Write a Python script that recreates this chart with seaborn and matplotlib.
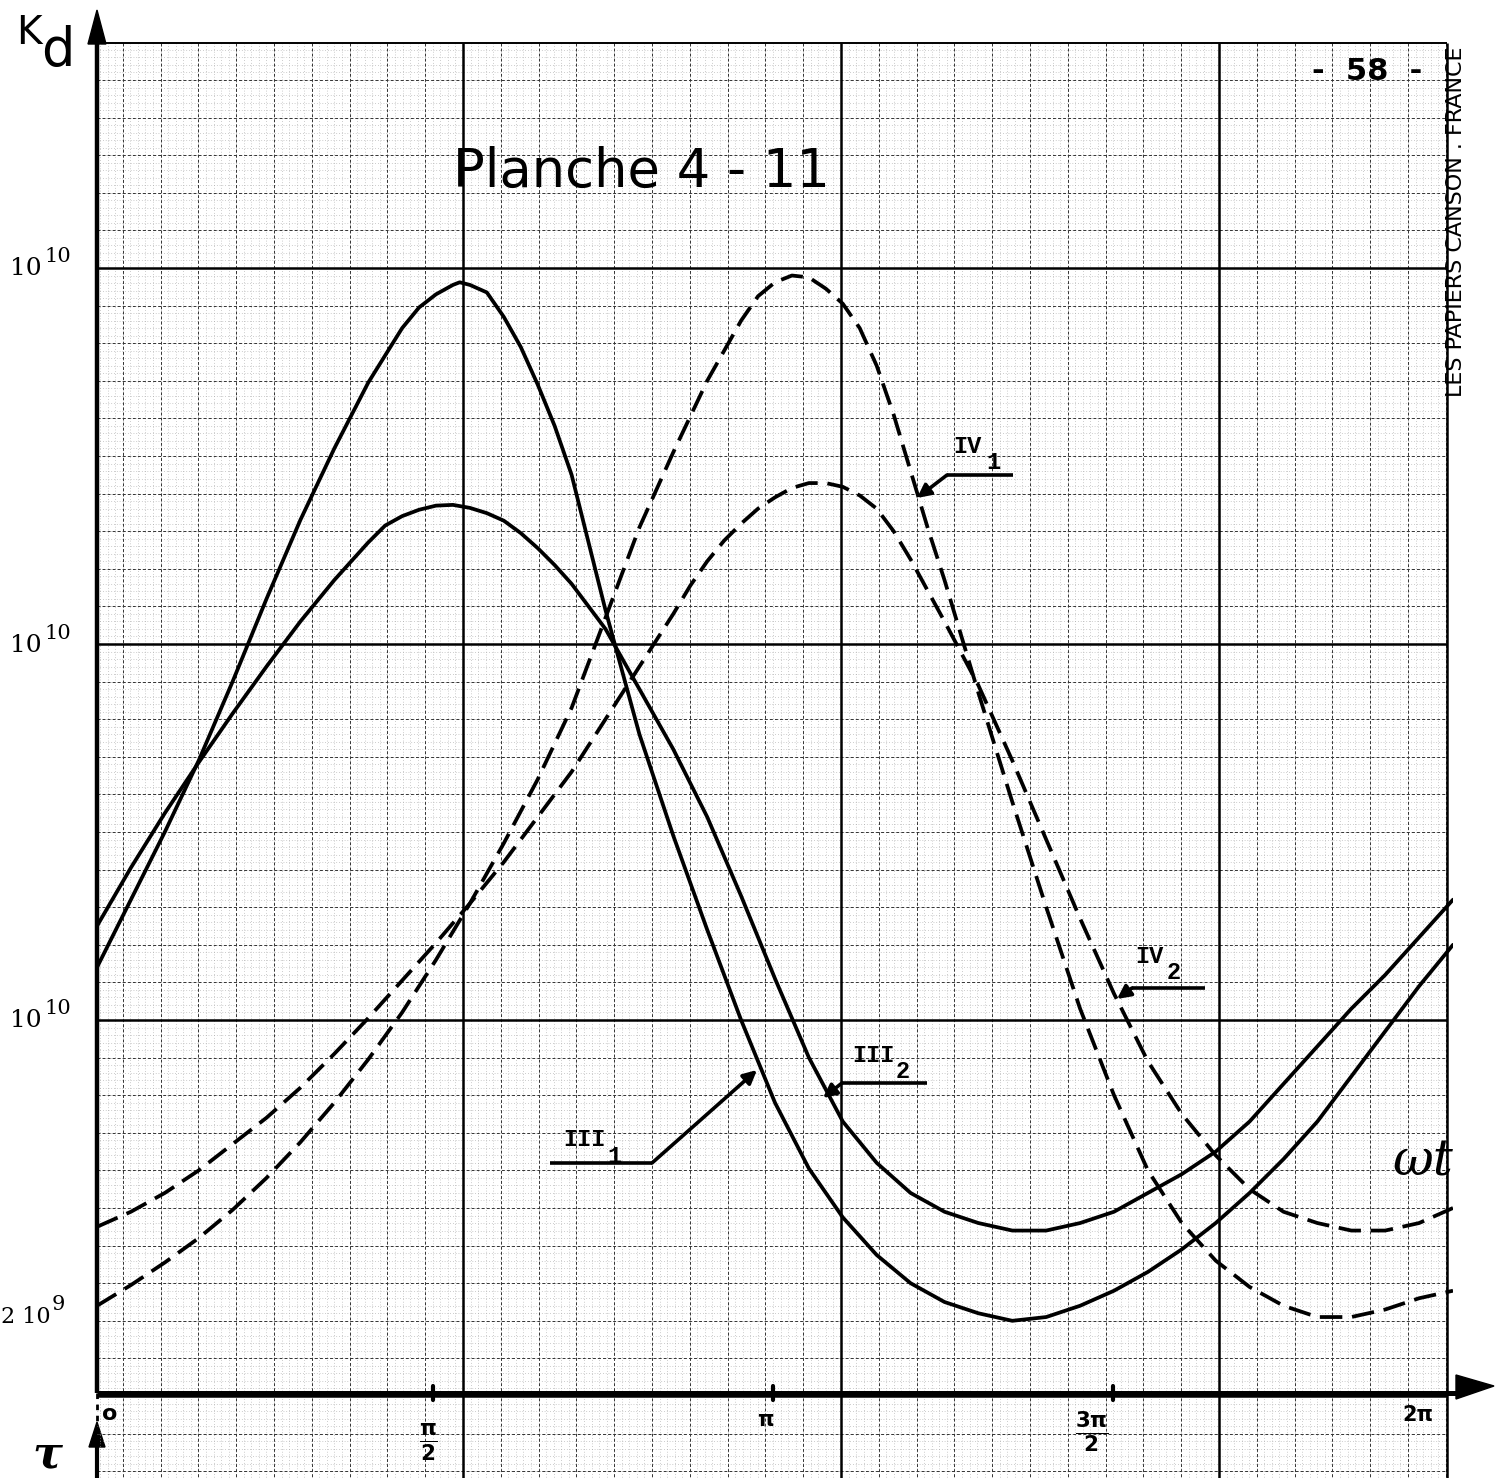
import numpy as np
import pandas as pd
import matplotlib
matplotlib.use("Agg")
import matplotlib.pyplot as plt
from matplotlib.patches import Polygon
import seaborn as sns

# ---------------- data : ωt in units of π, log10(Kd) ----------------
III1_wt = [0.00, 0.05, 0.10, 0.15, 0.20, 0.25, 0.30, 0.35, 0.40, 0.45,
           0.475, 0.50, 0.525, 0.535, 0.55, 0.575, 0.60, 0.625, 0.65, 0.675,
           0.70, 0.725, 0.75, 0.80, 0.85, 0.90, 0.95, 1.00, 1.05, 1.10,
           1.15, 1.20, 1.25, 1.30, 1.35, 1.40, 1.45, 1.50, 1.55, 1.60,
           1.65, 1.70, 1.75, 1.80, 1.85, 1.90, 1.95, 2.00]
III1_logKd = [10.14, 10.32, 10.50, 10.69, 10.90, 11.12, 11.33, 11.52, 11.695, 11.84,
              11.895, 11.93, 11.955, 11.962, 11.955, 11.935, 11.87, 11.79, 11.69, 11.58,
              11.45, 11.27, 11.09, 10.76, 10.49, 10.24, 10.00, 9.78, 9.605, 9.475,
              9.375, 9.30, 9.25, 9.22, 9.20, 9.21, 9.24, 9.28, 9.33, 9.39,
              9.46, 9.54, 9.63, 9.73, 9.85, 9.97, 10.09, 10.20]

III2_wt = [0.00, 0.05, 0.10, 0.15, 0.20, 0.25, 0.30, 0.35, 0.40, 0.425,
           0.45, 0.475, 0.50, 0.525, 0.55, 0.575, 0.60, 0.625, 0.65, 0.675,
           0.70, 0.75, 0.80, 0.85, 0.90, 0.95, 1.00, 1.05, 1.10, 1.15,
           1.20, 1.25, 1.30, 1.35, 1.40, 1.45, 1.50, 1.55, 1.60, 1.65,
           1.70, 1.75, 1.80, 1.85, 1.90, 1.95, 2.00]
III2_logKd = [10.25, 10.405, 10.55, 10.685, 10.815, 10.94, 11.06, 11.17, 11.27, 11.315,
              11.34, 11.357, 11.368, 11.37, 11.362, 11.348, 11.328, 11.295, 11.255, 11.21,
              11.16, 11.04, 10.88, 10.72, 10.54, 10.33, 10.11, 9.90, 9.73, 9.62,
              9.54, 9.49, 9.46, 9.44, 9.44, 9.46, 9.49, 9.54, 9.59, 9.65,
              9.73, 9.83, 9.93, 10.03, 10.12, 10.22, 10.32]

IV1_wt = [0.00, 0.05, 0.10, 0.15, 0.20, 0.25, 0.30, 0.35, 0.40, 0.45,
          0.50, 0.55, 0.60, 0.65, 0.70, 0.75, 0.80, 0.85, 0.90, 0.95,
          0.975, 1.00, 1.025, 1.05, 1.075, 1.10, 1.125, 1.15, 1.175, 1.20,
          1.225, 1.25, 1.30, 1.35, 1.40, 1.45, 1.50, 1.55, 1.60, 1.65,
          1.70, 1.75, 1.80, 1.85, 1.90, 1.95, 2.00]
IV1_logKd = [9.24, 9.295, 9.355, 9.42, 9.495, 9.58, 9.675, 9.78, 9.895, 10.02,
             10.16, 10.31, 10.47, 10.64, 10.83, 11.07, 11.31, 11.51, 11.70, 11.86,
             11.925, 11.962, 11.98, 11.975, 11.945, 11.905, 11.84, 11.74, 11.61, 11.46,
             11.31, 11.17, 10.87, 10.58, 10.30, 10.03, 9.80, 9.60, 9.46, 9.36,
             9.29, 9.24, 9.21, 9.21, 9.23, 9.26, 9.28]

IV2_wt = [0.00, 0.05, 0.10, 0.15, 0.20, 0.25, 0.30, 0.35, 0.40, 0.45,
          0.50, 0.55, 0.60, 0.65, 0.70, 0.75, 0.80, 0.85, 0.875, 0.90,
          0.925, 0.95, 0.975, 1.00, 1.025, 1.05, 1.075, 1.10, 1.125, 1.15,
          1.175, 1.20, 1.25, 1.30, 1.35, 1.40, 1.45, 1.50, 1.55, 1.60,
          1.65, 1.70, 1.75, 1.80, 1.85, 1.90, 1.95, 2.00]
IV2_logKd = [9.45, 9.49, 9.54, 9.60, 9.67, 9.74, 9.82, 9.91, 10.005, 10.105,
             10.205, 10.31, 10.42, 10.54, 10.66, 10.80, 10.94, 11.08, 11.155, 11.22,
             11.275, 11.32, 11.36, 11.39, 11.415, 11.428, 11.428, 11.418, 11.395, 11.36,
             11.30, 11.225, 11.06, 10.89, 10.69, 10.48, 10.27, 10.07, 9.89, 9.75,
             9.64, 9.55, 9.49, 9.46, 9.44, 9.44, 9.46, 9.50]

ytick_main = ["10", "10", "10", "2 10"]
ytick_exp = ["10", "10", "10", "9"]

curve_names = ["III1", "III2", "IV1", "IV2"]

# ---------------- figure ----------------
sns.set_style("white")
plt.rcParams["font.family"] = ["DejaVu Sans"]
plt.rcParams["text.color"] = "black"
W, H = 1502, 1478
fig = plt.figure(figsize=(W / 100, H / 100), dpi=100)
fig.patch.set_facecolor("white")

# background "graph paper" axes in pixel coordinates
bg = fig.add_axes([0, 0, 1, 1])
bg.set_xlim(0, W)
bg.set_ylim(H, 0)
bg.axis("off")

X0, X1 = 97, 1447
Y0, Y1 = 43, 1478
vmaj0, hmaj0 = 463.0, 268.0
vstep, hstep = 37.8, 37.6


def positions(ref, step, lo, hi):
    n0 = int(np.floor((ref - lo) / step))
    return np.array([ref + step * k for k in range(-n0, int((hi - ref) / step) + 1)])


vmin_pos = positions(vmaj0, vstep / 5, X0 + 2, X1 - 1)
hmin_pos = positions(hmaj0, hstep / 5, Y0 + 1, Y1)
vmed_pos = positions(vmaj0, vstep, X0 + 2, X1 - 1)
hmed_pos = positions(hmaj0, hstep, Y0 + 1, Y1)
vmaj_pos = positions(vmaj0, vstep * 10, X0 + 2, X1 - 1)
hmaj_pos = positions(hmaj0, hstep * 10, Y0 + 1, Y1)

bg.vlines(vmin_pos, Y0, Y1, colors="0.62", lw=0.5, linestyles=(0, (1, 3)))
bg.hlines(hmin_pos, X0, X1, colors="0.62", lw=0.5, linestyles=(0, (1, 3)))
bg.vlines(vmed_pos, Y0, Y1, colors="0.2", lw=0.7, linestyles=(0, (3, 2.2)))
bg.hlines(hmed_pos, X0, X1, colors="0.2", lw=0.7, linestyles=(0, (3, 2.2)))
bg.vlines(vmaj_pos, Y0, Y1, colors="black", lw=1.8)
bg.hlines(hmaj_pos, X0, X1, colors="black", lw=1.8)
bg.hlines([Y0], X0, X1, colors="black", lw=1.4)
bg.vlines([X1], Y0, Y1, colors="black", lw=1.8)

# axes lines with arrows
AX_Y = 1393
bg.plot([97, 97], [AX_Y, 40], color="black", lw=3.2, solid_capstyle="butt")
bg.add_patch(Polygon([[97, 10], [88, 44], [106, 44]], closed=True, color="black"))
bg.plot([97, 1460], [AX_Y, AX_Y], color="black", lw=3.6, solid_capstyle="butt")
bg.add_patch(Polygon([[1494, 1386], [1456, 1375], [1456, 1399]], closed=True, color="black"))
bg.plot([97, 97], [1393, 1425], color="black", lw=2.0, linestyle=(0, (2, 2)))
bg.plot([97, 97], [1478, 1440], color="black", lw=3.0, solid_capstyle="butt")
bg.add_patch(Polygon([[97, 1422], [89, 1447], [105, 1447]], closed=True, color="black"))
for tx in (433, 773, 1113):
    bg.plot([tx, tx], [AX_Y - 7, AX_Y + 7], color="black", lw=3.0)

# texts
bg.text(16, 44, "K", fontsize=28, family="DejaVu Sans", va="baseline", ha="left")
bg.text(41, 66, "d", fontsize=38, family="DejaVu Sans", va="baseline", ha="left")
bg.text(453, 187, "Planche 4 - 11", fontsize=38, family="DejaVu Sans", va="baseline",
        ha="left", weight="medium")
bg.text(1367, 80, "-  58  -", fontsize=22, family="DejaVu Sans", va="baseline", ha="center",
        weight="bold")
bg.text(1456, 222, "LES PAPIERS CANSON . FRANCE", fontsize=16, family="DejaVu Sans",
        rotation=90, va="center", ha="center")
bg.text(1423, 1162, "ωt", fontsize=36, family="DejaVu Serif", style="italic",
        va="center", ha="center")
bg.text(47, 1455, "τ", fontsize=32, family="DejaVu Serif", style="italic", weight="bold",
        va="center", ha="center")

# x tick labels
bg.text(110, 1414, "o", fontsize=16, weight="bold", va="center", ha="center")
bg.text(428, 1442, r"$\mathbf{\frac{\pi}{2}}$", fontsize=22, va="center", ha="center")
bg.text(765, 1420, "π", fontsize=15, weight="bold", va="center", ha="center")
bg.text(1092, 1432, r"$\mathbf{\frac{3\pi}{2}}$", fontsize=22, va="center", ha="center")
bg.text(1418, 1415, "2π", fontsize=15, weight="bold", va="center", ha="center")

# curve labels with leaders
label_specs = [
    ("III", "1", (563, 1146), (607, 1163), [(550, 1163), (652, 1163)], (757, 1070)),
    ("III", "2", (852, 1062), (896, 1078), [(927, 1083), (842, 1083)], (823, 1098)),
    ("IV", "1", (953, 453), (986, 469), [(1013, 475), (947, 475)], (917, 498)),
    ("IV", "2", (1135, 963), (1167, 979), [(1205, 988), (1132, 988)], (1117, 999)),
]
for main, sub, mpos, spos, pts, tip in label_specs:
    bg.text(mpos[0], mpos[1], main, fontsize=17, family="Liberation Mono", weight="bold",
            va="baseline", ha="left")
    bg.text(spos[0], spos[1], sub, fontsize=17, family="Liberation Mono", weight="bold",
            va="baseline", ha="left")
    xs = [p[0] for p in pts]
    ys = [p[1] for p in pts]
    bg.plot(xs, ys, color="black", lw=2.6, solid_capstyle="butt")
    bg.annotate("", xy=tip, xytext=pts[-1],
                arrowprops=dict(arrowstyle="-|>,head_length=0.8,head_width=0.4",
                                color="black", lw=2.6, shrinkA=0, shrinkB=0))

# y tick labels (as printed on the sheet)
tick_px = [268, 645, 1020, 1316]
for (main, exp, ypx) in zip(ytick_main, ytick_exp, tick_px):
    if len(main) > 2:
        bg.text(1, ypx + 7, main, fontsize=16, family="DejaVu Serif",
                va="baseline", ha="left")
        bg.text(52, ypx - 6, exp, fontsize=15, family="DejaVu Serif", va="baseline", ha="left")
    else:
        bg.text(42, ypx + 7, main, fontsize=18, family="DejaVu Serif", va="baseline", ha="right")
        bg.text(44, ypx - 6, exp, fontsize=15, family="DejaVu Serif", va="baseline", ha="left")

# ---------------- data axes ----------------
ax = fig.add_axes([97 / W, 0.0, (1453 - 97) / W, (H - 43) / H])
ax.patch.set_alpha(0)
ax.set_yscale("log")
for sp in ax.spines.values():
    sp.set_visible(False)

curves = {
    "III1": (III1_wt, III1_logKd, "-"),
    "III2": (III2_wt, III2_logKd, "-"),
    "IV1": (IV1_wt, IV1_logKd, (0, (6, 2.6))),
    "IV2": (IV2_wt, IV2_logKd, (0, (6, 2.6))),
}
for name in curve_names:
    wt, lk, ls = curves[name]
    df = pd.DataFrame({"wt": np.array(wt) * np.pi, "Kd": 10.0 ** np.array(lk)})
    sns.lineplot(data=df, x="wt", y="Kd", ax=ax, color="black", linewidth=2.7,
                 linestyle=ls, sort=False, estimator=None, legend=False)

ax.set_xlim(0, 2 * np.pi)
ax.set_ylim(10 ** (10 + (1020 - 1478) / 376), 10 ** (10 + (1020 - 43) / 376))
ax.set_xticks([])
ax.set_yticks([])
ax.minorticks_off()
ax.set_xlabel("")
ax.set_ylabel("")

fig.savefig("out.png", dpi=100, facecolor="white")
